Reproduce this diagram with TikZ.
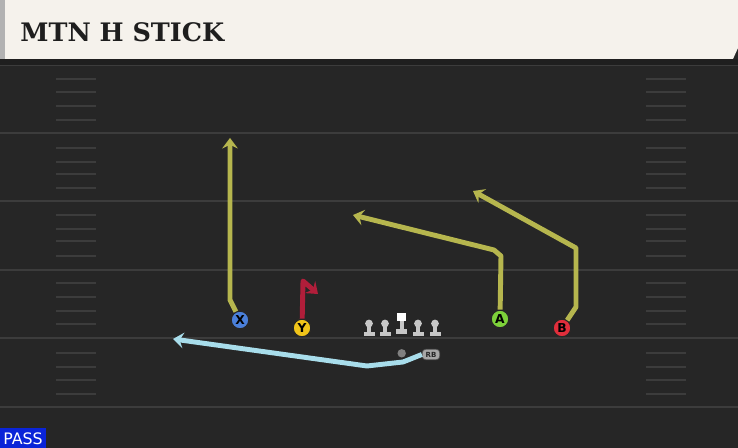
\documentclass[tikz,border=0pt]{standalone}
\usepackage{fontspec}
\newfontfamily\titlefont{DejaVu Serif}
\setsansfont{DejaVu Sans}
\usetikzlibrary{arrows.meta}

\definecolor{field}{RGB}{38,38,38}
\definecolor{fieldline}{RGB}{60,60,60}
\definecolor{header}{RGB}{245,242,236}
\definecolor{titletext}{RGB}{30,30,30}
\definecolor{routeyellow}{RGB}{182,182,78}
\definecolor{routered}{RGB}{176,30,58}
\definecolor{routecyan}{RGB}{168,221,235}
\definecolor{xblue}{RGB}{74,127,217}
\definecolor{yyellow}{RGB}{240,196,25}
\definecolor{agreen}{RGB}{125,209,58}
\definecolor{bred}{RGB}{224,46,59}
\definecolor{passblue}{RGB}{10,36,216}

\tikzset{
  player/.style={circle, draw=black!85, line width=0.6pt, fill=#1, minimum size=10pt, inner sep=0pt,
    font=\sffamily\bfseries\fontsize{7}{7}\selectfont},
  route/.style={draw=#1, line width=2.8pt, line join=round,
    -{Stealth[length=6pt,width=9pt,inset=2.2pt]}},
  yardline/.style={draw=fieldline, line width=1.1pt},
  hash/.style={draw=fieldline, line width=0.9pt},
  lineman/.style={fill=black!22},
}
\def\lineman(#1){
  \fill[lineman] (#1-5.5,332.5) rectangle (#1+5.5,336.5);
  \fill[lineman] (#1-2.3,325) rectangle (#1+2.3,333);
  \fill[lineman] (#1,323.5) circle (2.2pt);
}

\begin{document}
\begin{tikzpicture}[x=0.02cm, y=-0.02cm]
	%%%%% FIELD %%%%%
	\useasboundingbox (0,0) rectangle (738,448);
	\fill[field] (0,0) rectangle (738,448);
	\fill[black!88] (0,59) rectangle (738,65);
	\draw[yardline] (0,65.5) -- (738,65.5);
	\foreach \y in {133,201,270,338,407}
		\draw[yardline] (0,\y) -- (738,\y);
	\foreach \y in {79,92,106,120,148,162,174,188,215,229,241,256,283,297,311,324,353,367,380,394} {
		\draw[hash] (56,\y) -- (96,\y);
		\draw[hash] (646,\y) -- (686,\y);
	}
	
	%%%%% HEADER %%%%%
	\fill[black!30] (0,0) rectangle (5,59);
	\fill[header] (5,0) -- (738,0) -- (738,48) -- (733,59) -- (5,59) -- cycle;
	\node[anchor=west, inner sep=0pt, text=titletext, font=\titlefont\bfseries\fontsize{14.5}{14.5}\selectfont] (title) at (20,32) {MTN H STICK};
	
	%%%%% FORMATION %%%%%
	\foreach \x in {369,385,418,435}
		\lineman(\x);
	\fill[black!22] (395.5,329) rectangle (407,334);
	\fill[black!22] (399.5,321) rectangle (404,330);
	\fill[white] (397,313) rectangle (405.5,321);
	\fill[black!50] (401.7,353.3) circle (2.4pt);
	
	\node[player=xblue] (X) at (240,320) {X};
	\node[player=yyellow] (Y) at (302,328) {Y};
	\node[player=agreen] (A) at (500,319) {A};
	\node[player=bred] (B) at (562,328) {B};
	\node[draw=black!70, fill=black!35, rounded corners=2pt, minimum width=10pt, minimum height=6pt, inner sep=0pt,
		font=\sffamily\bfseries\fontsize{4}{4}\selectfont, text=black!85] (RB) at (431,354.5) {RB};
	
	%%%%% ROUTES %%%%%
	\coordinate (xend) at (230,138);
	\coordinate (yend) at (318,294);
	\coordinate (aend) at (353,215);
	\coordinate (bend) at (473,191);
	\coordinate (rbend) at (173,339);
	
	\draw[route=routeyellow] (X) -- (230,300) -- (xend);
	\draw[route=routered] (Y) -- (303,281) -- (yend);
	\draw[route=routeyellow] (A) -- (501,256) -- (494,250) -- (aend);
	\draw[route=routeyellow] (B) -- (576,307) -- (576,248) -- (bend);
	\draw[route=routecyan] (RB.west) -- (403,362) -- (367,366) -- (rbend);
	
	%%%%% PLAY TYPE %%%%%
	\fill[passblue] (0,428) rectangle (46,448);
	\node[text=white, font=\sffamily\fontsize{9}{9}\selectfont, inner sep=0pt] (pass) at (23,438.5) {PASS};
\end{tikzpicture}
\end{document}
